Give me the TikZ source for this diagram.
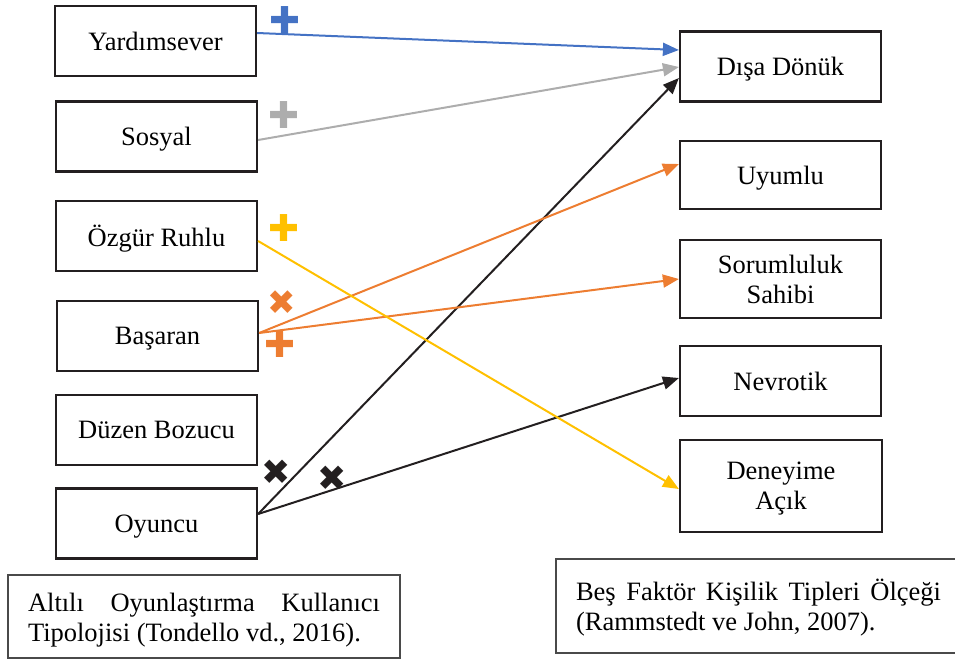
\documentclass[tikz,border=0pt]{standalone}
\usepackage{fontspec}
\setmainfont{Liberation Serif}
\newfontfamily\symfont{DejaVu Sans}
\usetikzlibrary{arrows.meta}

\definecolor{boxline}{HTML}{231F20}
\definecolor{noteline}{HTML}{4A4A4A}
\definecolor{plusblue}{HTML}{4472C4}
\definecolor{plusgray}{HTML}{ADADAD}
\definecolor{plusyellow}{HTML}{FFC000}
\definecolor{plusorange}{HTML}{ED7D31}

\begin{document}
\begin{tikzpicture}[x=1pt,y=-1pt,
	font={\fontsize{26.5}{30}\selectfont},
	>={Triangle[length=16pt,width=13pt]}]
\useasboundingbox (0,0) rectangle (955,659);

\begin{scope}[every node/.style={rectangle,draw=boxline,line width=2.2pt,minimum width=201pt,minimum height=70pt,inner sep=0pt,text depth=0pt,align=center}]
	%Tipoloji
	\node (T_1) at (155.5, 41) {Yardımsever};
	\node (T_2) at (156.5, 136.5) {Sosyal};
	\node (T_3) at (156.5, 236) {Özgür Ruhlu};
	\node (T_4) at (157.5, 336) {Başaran};
	\node (T_5) at (156.5, 430) {Düzen Bozucu};
	\node (T_6) at (156.5, 523.5) {Oyuncu};
	
	%Faktor
	\node (F_1) at (780.5, 66.5) {Dışa Dönük};
	\node (F_2) at (780.5, 175) [minimum height=68pt] {Uyumlu};
	\node (F_3) at (780.5, 279) [minimum height=78pt] {Sorumluluk\\Sahibi};
	\node (F_4) at (780.5, 381) {Nevrotik};
	\node (F_5) at (781, 486) [minimum height=92pt,minimum width=202pt] {Deneyime\\Açık};
\end{scope}

\begin{scope}[every node/.style={rectangle,draw=noteline,line width=1.3pt,inner xsep=20pt,align=justify}]
	%Kaynak
	\node (S_1) at (204, 616.5) [text width=352pt,minimum height=83pt] {\rule{0pt}{25pt}Altılı Oyunlaştırma Kullanıcı\linebreak Tipolojisi (Tondello vd., 2016).};
	\node (S_2) at (758.5, 606) [text width=365pt,minimum height=94pt] {\rule{0pt}{25pt}Beş Faktör Kişilik Tipleri Ölçeği\linebreak (Rammstedt ve John, 2007).};
\end{scope}

\begin{scope}[line width=2pt]
	%Disa Donuk
	\draw [->,plusblue] ([yshift=8]T_1.east) -- ([yshift=16.5]F_1.west);
	\draw [->,plusgray] ([yshift=-3.5]T_2.east) -- ([yshift=-0.5]F_1.west);
	\draw [->,boxline] ([yshift=9.5]T_6.east) -- ([yshift=-11.5]F_1.west);
	
	%Basaran
	\draw [->,plusorange] ([yshift=3]T_4.east) -- ([yshift=11]F_2.west);
	\draw [->,plusorange] ([yshift=3]T_4.east) -- (F_3.west);
	
	%Nevrotik, Deneyime Acik
	\draw [->,boxline] ([yshift=9.5]T_6.east) -- ([yshift=3]F_4.west);
	\draw [->,plusyellow] ([yshift=-5]T_3.east) -- ([yshift=-3]F_5.west);
\end{scope}

\begin{scope}[every node/.style={font={\symfont\fontsize{37}{37}\selectfont},inner sep=0pt}]
	%Isaretler
	\node (M_1) at (284.5, 20.5) [plusblue] {✚};
	\node (M_2) at (284, 115.5) [plusgray] {✚};
	\node (M_3) at (284, 228) [plusyellow] {✚};
	\node (M_4) at (282, 303) [plusorange,font={\symfont\fontsize{34}{34}\selectfont}] {✖};
	\node (M_5) at (279.5, 344.5) [plusorange] {✚};
	\node (M_6) at (276.5, 472.5) [boxline,font={\symfont\fontsize{35}{35}\selectfont}] {✖};
	\node (M_7) at (332.5, 478) [boxline,font={\symfont\fontsize{35}{35}\selectfont}] {✖};
\end{scope}
\end{tikzpicture}
\end{document}
